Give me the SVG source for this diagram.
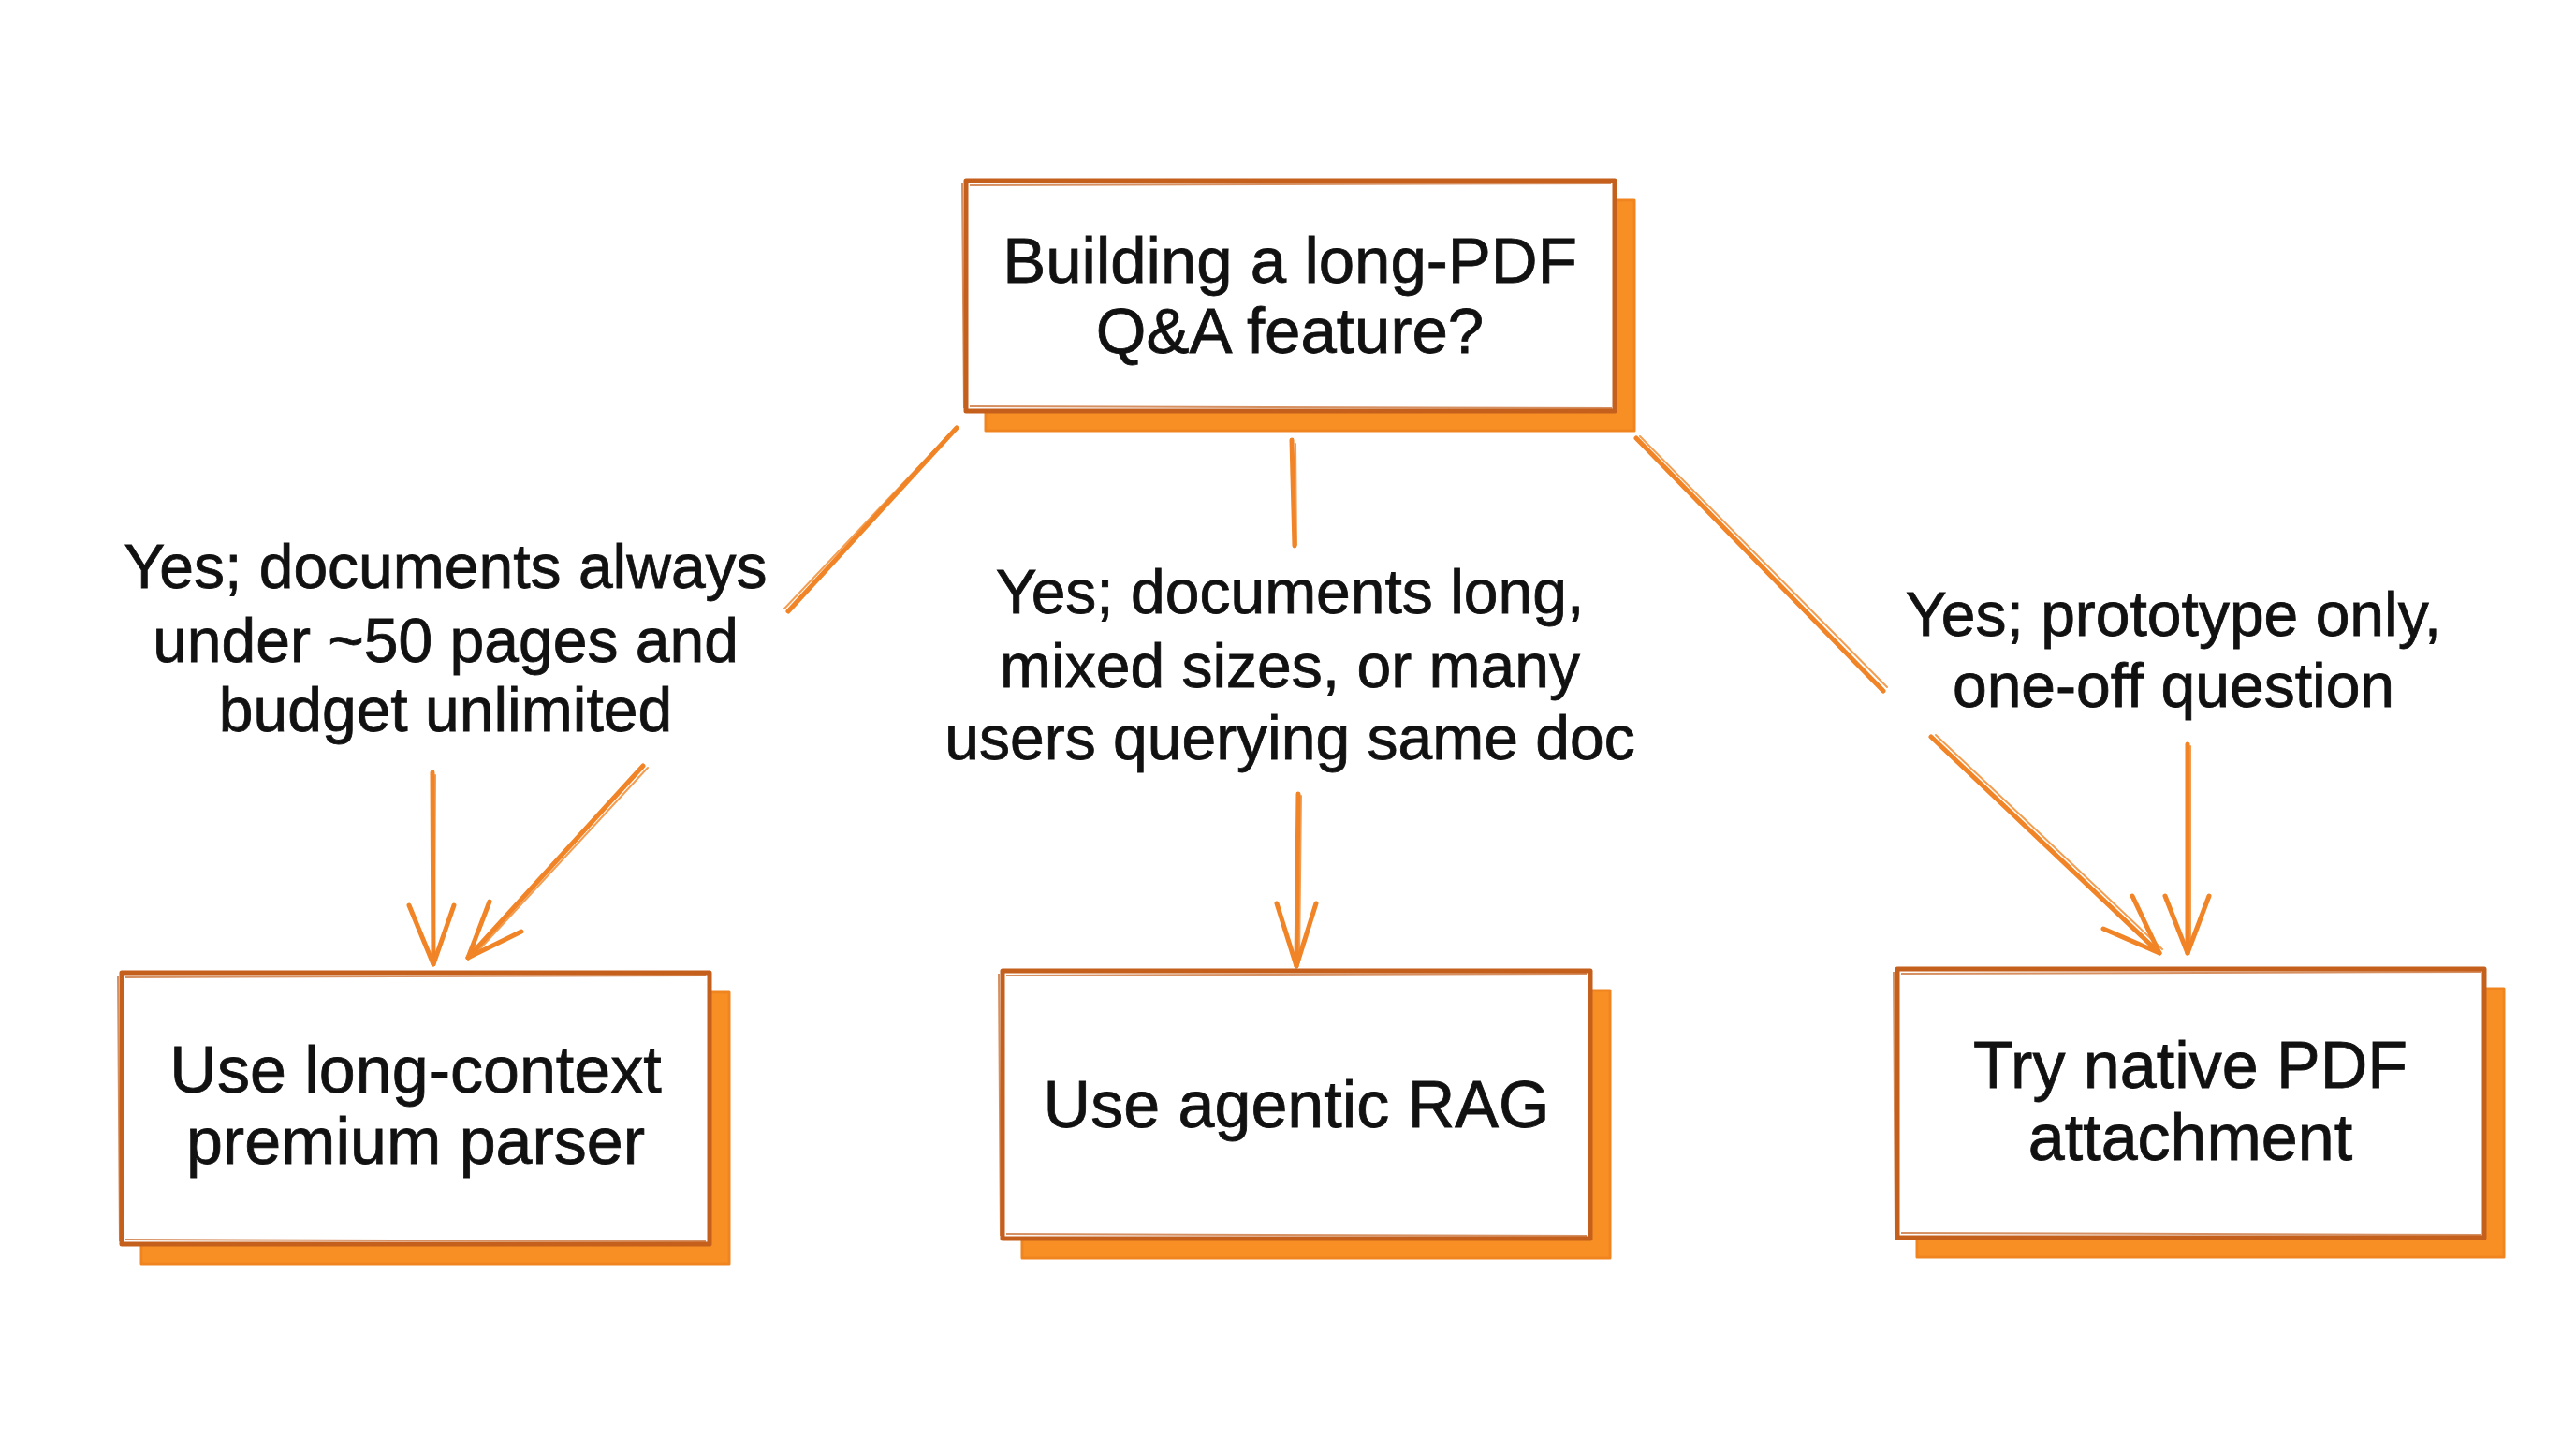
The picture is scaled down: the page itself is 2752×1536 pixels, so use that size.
<svg xmlns="http://www.w3.org/2000/svg" width="2752" height="1536" viewBox="0 0 2752 1536">
  <style>
    .shadow { fill: #f78f24; stroke: #f08520; stroke-width: 3; stroke-linejoin: round; }
    .box { fill: #ffffff; stroke: #c4601c; stroke-width: 5; stroke-linejoin: round; }
    .box2 { fill: none; stroke: #c4601c; stroke-width: 2; opacity: 0.7; }
    .txt { font-family: "Liberation Sans", Arial, sans-serif; font-size: 66px; fill: #111111; text-anchor: middle; stroke: #111111; stroke-width: 0.8; }
    .ntxt { font-size: 70px; }
    .ttxt { font-size: 69px; }
    .edge { fill: none; stroke: #f08426; stroke-width: 5; stroke-linecap: round; stroke-linejoin: round; }
    .edge2 { fill: none; stroke: #f08426; stroke-width: 2; stroke-linecap: round; opacity: 0.8; }
  </style>
  <rect width="2752" height="1536" fill="#ffffff"/>

  <g id="connectors">
    <!-- top to left -->
    <path class="edge" d="M1022 457 L842 653"/>
    <path class="edge2" d="M1018 460 L838 650"/>
    <path class="edge" d="M687 818 L500 1023"/>
    <path class="edge2" d="M692 820 L505 1022"/>
    <path class="edge" d="M523 963 L500 1023 L557 995"/>
    <path class="edge" d="M462 825 L463 1030"/>
    <path class="edge2" d="M465 828 L464 1026"/>
    <path class="edge" d="M437 967 L463 1030 L485 967"/>
    <!-- top to middle -->
    <path class="edge" d="M1380 470 L1383 583"/>
    <path class="edge2" d="M1384 474 L1385 582"/>
    <path class="edge" d="M1387 848 L1385 1032"/>
    <path class="edge2" d="M1390 850 L1388 1028"/>
    <path class="edge" d="M1364 965 L1385 1032 L1406 965"/>
    <!-- top to right -->
    <path class="edge" d="M1748 468 L2012 738"/>
    <path class="edge2" d="M1752 466 L2016 734"/>
    <path class="edge" d="M2063 787 L2307 1018"/>
    <path class="edge2" d="M2068 785 L2310 1014"/>
    <path class="edge" d="M2247 992 L2307 1018 L2278 957"/>
    <path class="edge" d="M2337 795 L2337 1018"/>
    <path class="edge2" d="M2340 797 L2340 1014"/>
    <path class="edge" d="M2313 957 L2337 1018 L2360 957"/>
  </g>

  <g id="labels">
    <text class="txt"><tspan x="476" y="628">Yes; documents always</tspan><tspan x="476" y="707">under ~50 pages and</tspan><tspan x="476" y="781">budget unlimited</tspan></text>
    <text class="txt"><tspan x="1378" y="655">Yes; documents long,</tspan><tspan x="1378" y="734">mixed sizes, or many</tspan><tspan x="1378" y="811">users querying same doc</tspan></text>
    <text class="txt"><tspan x="2322" y="679">Yes; prototype only,</tspan><tspan x="2322" y="755">one-off question</tspan></text>
  </g>

  <g id="node-start">
    <rect class="shadow" x="1053" y="214" width="693" height="246"/>
    <rect class="box" x="1032" y="193" width="693" height="246"/>
    <path class="box2" d="M1036 198 L1721 196 M1028 196 L1030 436 M1036 434 L1722 436"/>
    <text class="txt ttxt"><tspan x="1378" y="302">Building a long-PDF</tspan><tspan x="1378" y="377">Q&amp;A feature?</tspan></text>
  </g>

  <g id="node-longcontext">
    <rect class="shadow" x="151" y="1060" width="628" height="290"/>
    <rect class="box" x="130" y="1039" width="628" height="290"/>
    <path class="box2" d="M134 1044 L754 1042 M126 1042 L128 1326 M134 1324 L754 1326"/>
    <text class="txt ntxt"><tspan x="444" y="1167">Use long-context</tspan><tspan x="444" y="1243">premium parser</tspan></text>
  </g>

  <g id="node-rag">
    <rect class="shadow" x="1092" y="1058" width="628" height="286"/>
    <rect class="box" x="1071" y="1037" width="628" height="286"/>
    <path class="box2" d="M1075 1042 L1695 1040 M1067 1040 L1069 1320 M1075 1318 L1695 1320"/>
    <text class="txt ntxt" x="1385" y="1204">Use agentic RAG</text>
  </g>

  <g id="node-native">
    <rect class="shadow" x="2048" y="1056" width="627" height="287"/>
    <rect class="box" x="2027" y="1035" width="627" height="287"/>
    <path class="box2" d="M2031 1040 L2650 1038 M2023 1038 L2025 1319 M2031 1317 L2650 1319"/>
    <text class="txt ntxt"><tspan x="2340" y="1162">Try native PDF</tspan><tspan x="2340" y="1239">attachment</tspan></text>
  </g>
</svg>
